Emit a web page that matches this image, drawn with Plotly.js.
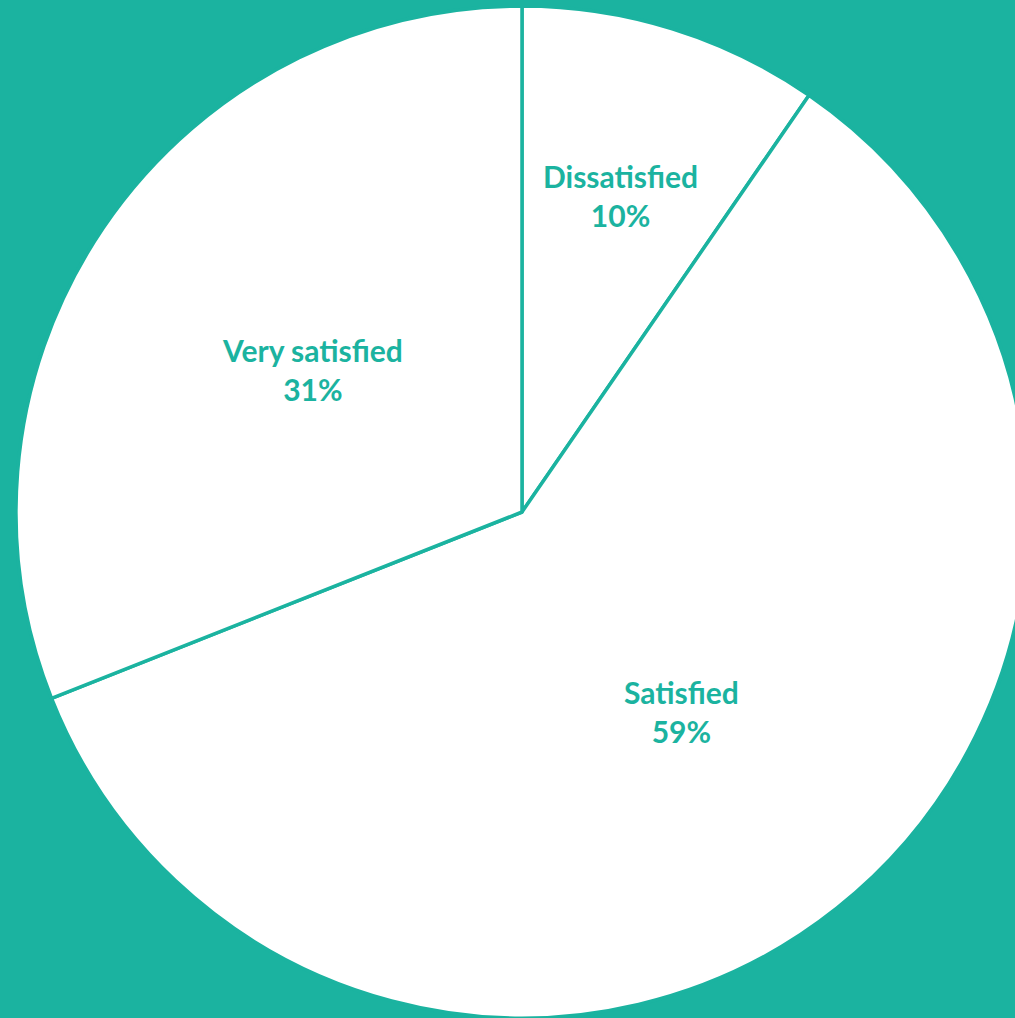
<!DOCTYPE html>
<html>
<head>
<meta charset="utf-8">
<script src="https://cdn.plot.ly/plotly-3.0.1.min.js"></script>
<style>
  html, body { margin: 0; padding: 0; background: #1bb3a0; overflow: hidden; width: 1015px; height: 1018px; }
  #chart { position: absolute; left: 16px; top: 6px; width: 1012px; height: 1012px; }
</style>
</head>
<body>
<div id="chart"></div>
<script>
const categories = ["Dissatisfied", "Satisfied", "Very satisfied"];
const values = [9.6, 59.4, 31.0];

const teal = "#1bb3a0";
// label distance from centre, as a fraction of the radius
const labelRadius = [0.655, 0.505, 0.5];

const total = values.reduce((a, b) => a + b, 0);
const annotations = [];
let cum = 0;
values.forEach((v, i) => {
  const mid = (cum + v / 2) / total * 2 * Math.PI;
  cum += v;
  const f = labelRadius[i] * 0.5;
  annotations.push({
    xref: "paper", yref: "paper",
    x: 0.5 + f * Math.sin(mid),
    y: 0.5 + f * Math.cos(mid),
    xanchor: "center", yanchor: "middle",
    showarrow: false,
    text: categories[i] + "<br>" + Math.round(v / total * 100) + "%",
    font: { family: "Lato", size: 30, color: teal, weight: "bold" }
  });
});

const trace = {
  type: "pie",
  labels: categories,
  values: values,
  sort: false,
  direction: "clockwise",
  rotation: 0,
  marker: { colors: ["#ffffff", "#ffffff", "#ffffff"], line: { color: teal, width: 3.5 } },
  textinfo: "none",
  hoverinfo: "none",
  showlegend: false
};

const layout = {
  width: 1012,
  height: 1012,
  margin: { l: 0, r: 0, t: 0, b: 0, pad: 0 },
  paper_bgcolor: teal,
  plot_bgcolor: teal,
  showlegend: false,
  annotations: annotations
};

Plotly.newPlot("chart", [trace], layout, { displayModeBar: false, staticPlot: true });
</script>
</body>
</html>
